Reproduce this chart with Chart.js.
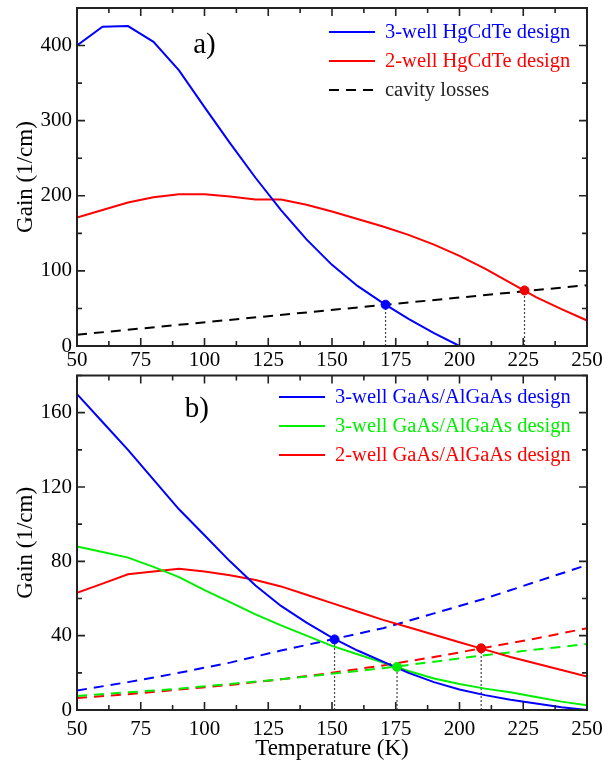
<!DOCTYPE html>
<html>
<head>
<meta charset="utf-8">
<script src="https://cdn.jsdelivr.net/npm/chart.js@4.4.1/dist/chart.umd.min.js"></script>
<style>
  html, body { margin: 0; padding: 0; background: #fff; }
  #wrap { position: relative; width: 602px; height: 763px; }
  #chartA { position: absolute; left: 0; top: 0; }
  #chartB { position: absolute; left: 0; top: 370px; }
</style>
</head>
<body>
<div id="wrap">
  <canvas id="chartA" width="602" height="370"></canvas>
  <canvas id="chartB" width="602" height="393"></canvas>
</div>
<script>
// ---- panel a) HgCdTe ----
const tempsA = [50, 60, 70, 80, 90, 100, 110, 120, 130, 140, 150, 160, 170, 180, 190, 200, 210, 220, 230, 240, 250];
const hg3Well = [400, 425, 426, 405, 367, 318, 270, 224, 181, 142, 108, 80, 57, 36, 17, 0];
const hg2Well = [171, 181, 191, 198, 202, 202, 199, 195, 195, 188, 179, 169, 159, 148, 135, 120, 103, 84, 65, 49, 34];
const lossTempsA = [50, 250];
const hgLosses = [15, 81];
const hgThresholds = [[171, 55], [225.5, 74]];   // [T, gain]

// ---- panel b) GaAs/AlGaAs ----
const tempsB = [50, 60, 70, 80, 90, 100, 110, 120, 130, 140, 150, 160, 170, 180, 190, 200, 210, 220, 230, 240, 250];
const ga3WellBlue = [170, 155, 140, 124, 108, 94, 80, 67, 56, 47, 39, 32, 26, 20, 15, 11, 8, 5.5, 3.5, 1.5, 0];
const ga3WellGreen = [88, 85, 82, 77, 71.5, 64.5, 58, 51.5, 45.5, 40, 34.5, 30, 25.5, 21, 17, 14, 11.5, 9.5, 7, 4.5, 2.5];
const ga2WellRed = [63, 68, 73, 74.5, 76, 74.5, 72.5, 70, 66.5, 62, 57.5, 53, 48.5, 44.5, 40.5, 36.5, 32.5, 28.5, 25, 21.5, 18];
const lossTempsB = [50, 70, 90, 110, 130, 150, 170, 190, 210, 230, 250];
const lossBlue = [10.5, 15, 20, 25.5, 32, 38, 44, 52, 60, 69, 78];
const lossGreen = [7.5, 9.5, 11.5, 14, 16.5, 19.5, 22.5, 26, 29.5, 32.5, 35.5];
const lossRed = [6.5, 8.5, 11, 13.5, 16.5, 20, 24, 28.5, 33.5, 38.5, 44];
const gaThresholds = [[151, 38, '#0000ff'], [175.5, 23.2, '#00ee00'], [208.5, 33.2, '#ee0000']];

const xTicks = [50, 75, 100, 125, 150, 175, 200, 225, 250];

const BLUE = '#0000ff', RED = '#ff0000', GREEN = '#00ee00', BLACK = '#000000';
const SERIF = '"Liberation Serif", "Times New Roman", serif';

function pts(xs, ys) {
  return ys.map((y, i) => ({ x: xs[i], y: y }));
}

function curve(xs, ys, color, dashed, legendText, legendColor) {
  return {
    data: pts(xs, ys),
    borderColor: color,
    borderWidth: 2,
    borderDash: dashed ? [10, 7] : [],
    pointRadius: 0,
    tension: 0,
    legendText: legendText,
    legendColor: legendColor || color
  };
}

function marker(t, g, color) {
  return {
    data: [{ x: t, y: g }],
    showLine: false,
    pointRadius: 4.5,
    pointBackgroundColor: color,
    pointBorderColor: color
  };
}

function dropLine(t, g) {
  return {
    data: [{ x: t, y: 0 }, { x: t, y: g }],
    borderColor: '#444',
    borderWidth: 1.2,
    borderDash: [2, 2],
    pointRadius: 0
  };
}

// Frame + inward ticks on all four sides
const framePlugin = {
  id: 'frame',
  afterDraw(chart, args, opts) {
    const { ctx, chartArea: a, scales } = chart;
    const x = scales.x, y = scales.y;
    ctx.save();
    ctx.strokeStyle = '#222';
    ctx.lineWidth = 1.6;
    const tick = (v, len, horiz) => {
      if (horiz) {
        const px = x.getPixelForValue(v);
        ctx.beginPath();
        ctx.moveTo(px, a.bottom); ctx.lineTo(px, a.bottom - len);
        ctx.moveTo(px, a.top); ctx.lineTo(px, a.top + len);
        ctx.stroke();
      } else {
        const py = y.getPixelForValue(v);
        ctx.beginPath();
        ctx.moveTo(a.left, py); ctx.lineTo(a.left + len, py);
        ctx.moveTo(a.right, py); ctx.lineTo(a.right - len, py);
        ctx.stroke();
      }
    };
    for (let v = x.min; v <= x.max + 1e-6; v += 12.5) {
      tick(v, (v - x.min) % 25 === 0 ? 8 : 5, true);
    }
    for (let v = y.min; v <= y.max + 1e-6; v += opts.yMinor) {
      tick(v, Math.round(v / opts.yMinor) % 2 === 0 ? 8 : 5, false);
    }
    ctx.lineWidth = 2;
    ctx.strokeRect(a.left, a.top, a.right - a.left, a.bottom - a.top);

    // panel tag
    ctx.fillStyle = '#000';
    ctx.font = '29px ' + SERIF;
    ctx.textAlign = 'center';
    ctx.textBaseline = 'middle';
    ctx.fillText(opts.tag, x.getPixelForValue(opts.tagX), y.getPixelForValue(opts.tagY));
    ctx.restore();
  }
};

// Legend drawn inside the plot, lines + coloured text
const inLegendPlugin = {
  id: 'inLegend',
  afterDraw(chart, args, opts) {
    const { ctx } = chart;
    const items = chart.data.datasets.filter(d => d.legendText);
    ctx.save();
    ctx.font = '20.5px ' + SERIF;
    ctx.textBaseline = 'middle';
    ctx.textAlign = 'left';
    items.forEach((d, i) => {
      const yy = opts.y0 + i * opts.dy;
      ctx.strokeStyle = d.borderColor;
      ctx.lineWidth = 2;
      ctx.setLineDash(d.borderDash || []);
      ctx.beginPath();
      ctx.moveTo(opts.x0, yy);
      ctx.lineTo(opts.x0 + 46, yy);
      ctx.stroke();
      ctx.setLineDash([]);
      ctx.fillStyle = d.legendColor;
      ctx.fillText(d.legendText, opts.x0 + 56, yy + 1);
    });
    ctx.restore();
  }
};

function baseOptions(yMax, yStep, xTitle, padTop, xHeight, tickPad) {
  return {
    responsive: false,
    animation: false,
    layout: { padding: { top: padTop, right: 15, left: 0, bottom: 0 } },
    plugins: { legend: { display: false }, tooltip: { enabled: false } },
    scales: {
      x: {
        type: 'linear',
        min: 50, max: 250,
        grid: { display: false, drawTicks: false },
        border: { display: false },
        afterBuildTicks: s => { s.ticks = xTicks.map(v => ({ value: v })); },
        ticks: { color: '#000', font: { family: SERIF, size: 21 }, padding: tickPad, maxRotation: 0 },
        title: xTitle ? { display: true, text: xTitle, color: '#000', font: { family: SERIF, size: 23 }, padding: { top: 0, bottom: 0 } } : { display: false },
        afterFit: s => { s.height = xHeight; s.paddingLeft = 0; s.paddingRight = 0; }
      },
      y: {
        min: 0, max: yMax,
        grid: { display: false, drawTicks: false },
        border: { display: false },
        afterBuildTicks: s => { s.ticks = s.ticks.filter(t => t.value < yMax); },
        ticks: { stepSize: yStep, color: '#000', font: { family: SERIF, size: 21 }, padding: 5 },
        title: { display: true, text: 'Gain (1/cm)', color: '#000', font: { family: SERIF, size: 23 }, padding: { top: 12, bottom: 0 } },
        afterFit: s => { s.width = 77; s.paddingTop = 0; s.paddingBottom = 0; }
      }
    }
  };
}

// ---- chart a ----
const optsA = baseOptions(450, 100, null, 8, 24, 2);
optsA.plugins.frame = { yMinor: 50, tag: 'a)', tagX: 100, tagY: 400 };
optsA.plugins.inLegend = { x0: 329, y0: 32, dy: 29 };
new Chart(document.getElementById('chartA'), {
  type: 'line',
  data: {
    datasets: [
      marker(hgThresholds[0][0], hgThresholds[0][1], BLUE),
      marker(hgThresholds[1][0], hgThresholds[1][1], '#ee0000'),
      curve(tempsA, hg3Well, BLUE, false, '3-well HgCdTe design'),
      curve(tempsA, hg2Well, RED, false, '2-well HgCdTe design'),
      curve(lossTempsA, hgLosses, BLACK, true, 'cavity losses', '#222'),
      dropLine(hgThresholds[0][0], hgThresholds[0][1]),
      dropLine(hgThresholds[1][0], hgThresholds[1][1])
    ]
  },
  options: optsA,
  plugins: [framePlugin, inLegendPlugin]
});

// ---- chart b ----
const optsB = baseOptions(180, 40, 'Temperature (K)', 3, 53, 7);
optsB.plugins.frame = { yMinor: 20, tag: 'b)', tagX: 97, tagY: 162 };
optsB.plugins.inLegend = { x0: 279, y0: 27, dy: 29 };
new Chart(document.getElementById('chartB'), {
  type: 'line',
  data: {
    datasets: gaThresholds.map(t => marker(t[0], t[1], t[2])).concat([
      curve(tempsB, ga3WellBlue, BLUE, false, '3-well GaAs/AlGaAs design'),
      curve(tempsB, ga3WellGreen, GREEN, false, '3-well GaAs/AlGaAs design'),
      curve(tempsB, ga2WellRed, RED, false, '2-well GaAs/AlGaAs design'),
      curve(lossTempsB, lossBlue, BLUE, true),
      curve(lossTempsB, lossGreen, GREEN, true),
      curve(lossTempsB, lossRed, RED, true)
    ], gaThresholds.map(t => dropLine(t[0], t[1])))
  },
  options: optsB,
  plugins: [framePlugin, inLegendPlugin]
});
</script>
</body>
</html>
